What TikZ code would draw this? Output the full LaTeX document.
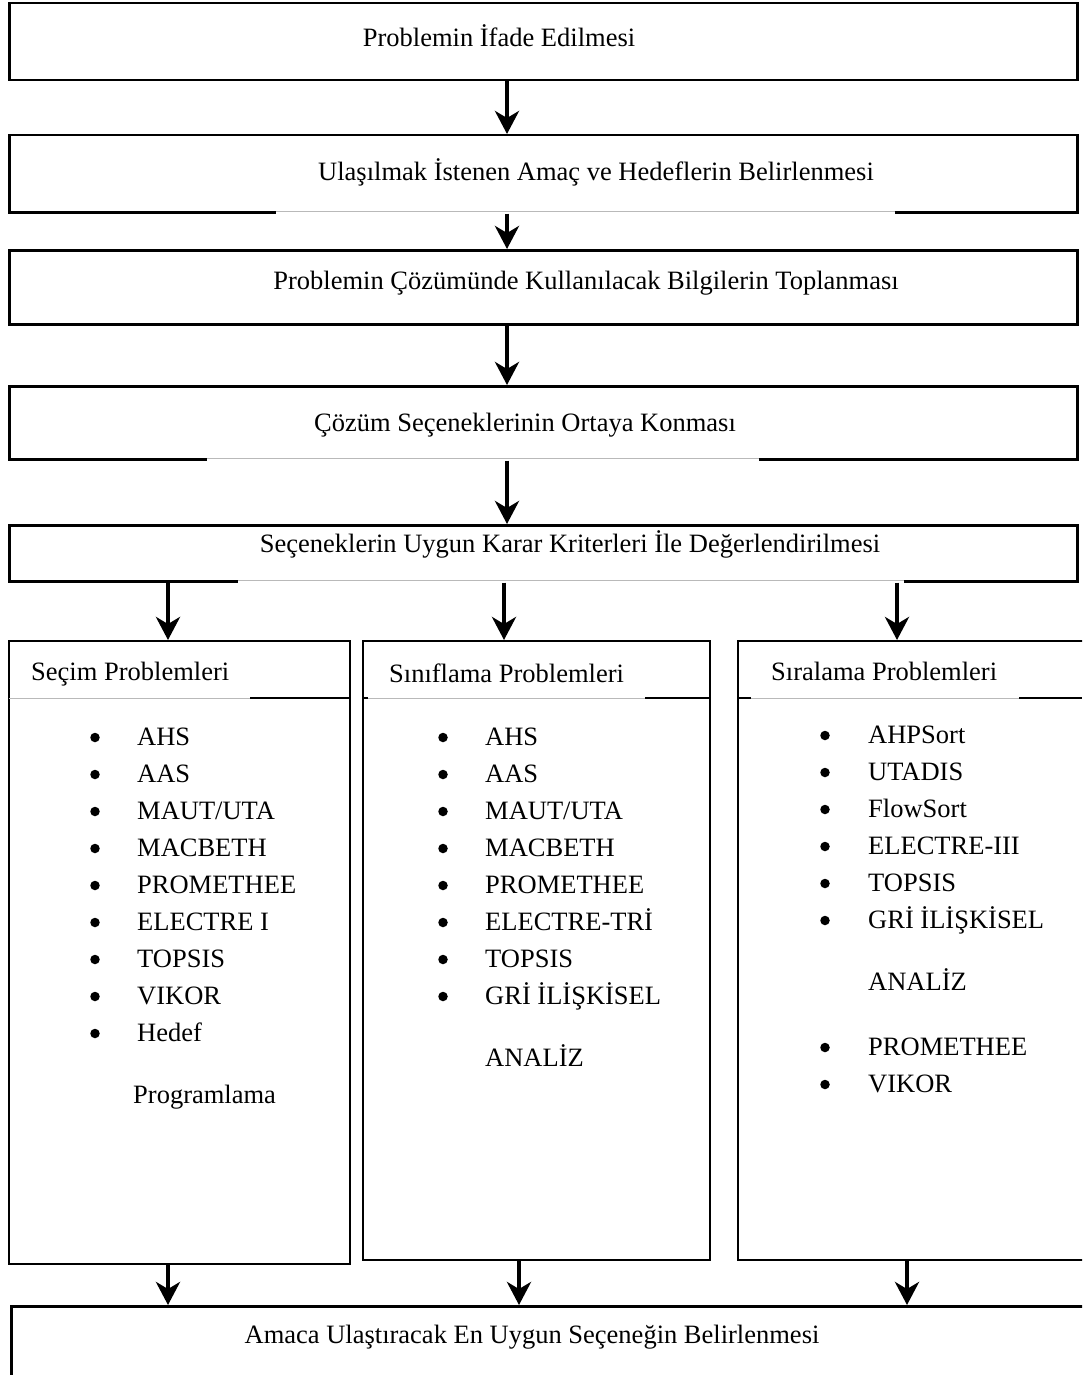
\documentclass[tikz,border=0pt]{standalone}
\usepackage{fontspec}
\setmainfont{Liberation Serif}
\usetikzlibrary{arrows.meta}
\tikzset{
  box/.style={draw, line width=2.5pt, rectangle, inner sep=0pt, anchor=north west},
  colbox/.style={draw, line width=2pt, rectangle, inner sep=0pt, anchor=north west},
  txt/.style={font=\fontsize{26.5}{30}\selectfont, inner sep=0pt, anchor=base},
  item/.style={font=\fontsize{26.5}{30}\selectfont, inner sep=0pt, anchor=base west},
  dot/.style={circle, fill=black, inner sep=0pt, minimum size=9.5pt},
  flowarr/.style={line width=4pt, -{Stealth[length=23pt,width=24pt,inset=7pt]}},
  gapline/.style={draw=gray!55, line width=1pt},
  cover/.style={draw=white, line width=5pt},
  hline/.style={draw=black, line width=2.5pt},
}
\begin{document}
\begin{tikzpicture}[x=1pt,y=-1pt]
\useasboundingbox (0,0) rectangle (1082,1375);
\clip (0,0) rectangle (1082,1375);

% main boxes
\node[box, minimum width=1068pt, minimum height=77pt] (b1) at (8,2) {};
\node[box, minimum width=1068pt, minimum height=77pt] (b2) at (8,134) {};
\node[box, minimum width=1068pt, minimum height=74pt] (b3) at (8,249) {};
\node[box, minimum width=1068pt, minimum height=73pt] (b4) at (8,385) {};
\node[box, minimum width=1068pt, minimum height=56pt] (b5) at (8,524) {};

% gaps in bottom borders
\draw[cover] (276,211) -- (895,211);
\draw[gapline] (276,211) -- (895,211);
\draw[cover] (207,458) -- (759,458);
\draw[gapline] (207,458) -- (759,458);
\draw[cover] (238,580) -- (904,580);
\draw[gapline] (238,580) -- (904,580);

% texts of main boxes
\node[txt] (t1) at (499,47) {Problemin İfade Edilmesi};
\node[txt] (t2) at (596,181) {Ulaşılmak İstenen Amaç ve Hedeflerin Belirlenmesi};
\node[txt] (t3) at (586,289) {Problemin Çözümünde Kullanılacak Bilgilerin Toplanması};
\node[txt] (t4) at (525,431) {Çözüm Seçeneklerinin Ortaya Konması};
\node[txt] (t5) at (570,552) {Seçeneklerin Uygun Karar Kriterleri İle Değerlendirilmesi};

% column boxes
\node[colbox, minimum width=341pt, minimum height=623pt] (cA) at (8,640) {};
\node[colbox, minimum width=347pt, minimum height=619pt] (cB) at (362,640) {};
\node[colbox, minimum width=353pt, minimum height=619pt] (cC) at (737,640) {};

% header separators
\draw[gapline] (9,698) -- (250,698);
\draw[hline] (250,698) -- (349,698);
\draw[hline] (362,698) -- (368,698);
\draw[gapline] (368,698) -- (645,698);
\draw[hline] (645,698) -- (709,698);
\draw[hline] (737,698) -- (751,698);
\draw[gapline] (751,698) -- (1019,698);
\draw[hline] (1019,698) -- (1082,698);

\node[item] (hA) at (31,680) {Seçim Problemleri};
\node[item] (hB) at (389,682) {Sınıflama Problemleri};
\node[item] (hC) at (771,680) {Sıralama Problemleri};

% column A list
\foreach \t [count=\i] in {AHS,AAS,MAUT/UTA,MACBETH,PROMETHEE,ELECTRE I,TOPSIS,VIKOR,Hedef} {
  \node[item] (a\i) at (137,{708+37*\i}) {\t};
  \node[dot] (ad\i) at (95,{700.5+37*\i}) {};
}
\node[item] (a10) at (133,1103) {Programlama};

% column B list
\foreach \t [count=\i] in {AHS,AAS,MAUT/UTA,MACBETH,PROMETHEE,ELECTRE-TRİ,TOPSIS,GRİ İLİŞKİSEL} {
  \node[item] (bb\i) at (485,{708+37*\i}) {\t};
  \node[dot] (bd\i) at (443,{700.5+37*\i}) {};
}
\node[item] (bb9) at (485,1066) {ANALİZ};

% column C list
\foreach \t [count=\i] in {AHPSort,UTADIS,FlowSort,ELECTRE-III,TOPSIS,GRİ İLİŞKİSEL} {
  \node[item] (cc\i) at (868,{706+37*\i}) {\t};
  \node[dot] (cd\i) at (825,{698.5+37*\i}) {};
}
\node[item] (cc7) at (868,990) {ANALİZ};
\node[item] (cc8) at (868,1055) {PROMETHEE};
\node[dot] (cd8) at (825,1047.5) {};
\node[item] (cc9) at (868,1092) {VIKOR};
\node[dot] (cd9) at (825,1084.5) {};

% final box
\node[box, minimum width=1080pt, minimum height=100pt] (b6) at (10,1305) {};
\node[txt] (t6) at (532,1343) {Amaca Ulaştıracak En Uygun Seçeneğin Belirlenmesi};

% x positions of connectors
\coordinate (xm) at (507,0);
\coordinate (xa) at (168,0);
\coordinate (xb) at (504,0);
\coordinate (xc) at (897,0);
\coordinate (ya) at (168,0);
\coordinate (yb) at (519,0);
\coordinate (yc) at (907,0);

% connectors
\draw[flowarr] (b1.south -| xm) -- (b2.north -| xm);
\draw[flowarr] (b2.south -| xm) -- (b3.north -| xm);
\draw[flowarr] (b3.south -| xm) -- (b4.north -| xm);
\draw[flowarr] (b4.south -| xm) -- (b5.north -| xm);
\draw[flowarr] (b5.south -| xa) -- (cA.north -| xa);
\draw[flowarr] (b5.south -| xb) -- (cB.north -| xb);
\draw[flowarr] (b5.south -| xc) -- (cC.north -| xc);
\draw[flowarr] (cA.south -| ya) -- (b6.north -| ya);
\draw[flowarr] (cB.south -| yb) -- (b6.north -| yb);
\draw[flowarr] (cC.south -| yc) -- (b6.north -| yc);
\end{tikzpicture}
\end{document}
